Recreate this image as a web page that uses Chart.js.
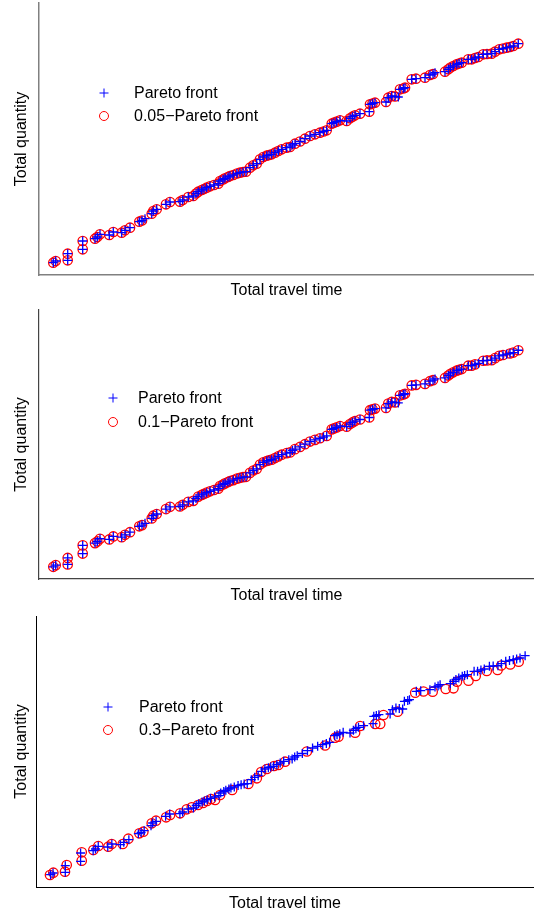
<!DOCTYPE html>
<html>
<head>
<meta charset="utf-8">
<script src="https://cdn.jsdelivr.net/npm/chart.js@4.4.0/dist/chart.umd.min.js"></script>
<style>
  body { margin: 0; background: #fff; }
  canvas { display: block; }
</style>
</head>
<body>
<canvas id="c1" width="534" height="305"></canvas>
<canvas id="c2" width="534" height="304"></canvas>
<canvas id="c3" width="534" height="305"></canvas>
<script>
// Pareto front (same in all three panels)
const paretoTime = [14.3,16.7,28.7,28.7,43.7,43.7,56,58.3,61,70.3,74.3,82.7,86,91,100.3,103,106,112.7,114.3,117.7,
  127,131,141,143.7,149.3,154.3,157,159.3,162.7,165,167.7,171,175,179.3,181,184,186,189,191,194.3,
  198,201,204,207,211,214.3,217.7,221,224.3,227.7,230,232.7,236,239.3,242.7,247.7,251,253.5,256,261,
  266,271,276,281,284.5,287.7,292.7,295,297.7,301,307.7,311,313.5,316,321,330.3,331,333.5,336,347,
  349.3,352.7,356,359.3,361,364.3,366,372.7,377,386,391,394,396,406,409.3,411.5,414.3,417.7,420,422.7,
  429.3,432.7,436,439.3,444.3,448,452.7,456,460.3,464,467.7,471,474.3,479.3];
const paretoQty = [12.3,14,14.7,21.3,25.7,34,36.3,38,40.7,40,43,42.3,44.7,47.3,53.3,54.5,56.3,61.3,64,65.7,
  70.7,73,73.3,75,78,79,81.5,83.3,85,86,87.3,88.7,90,91.3,94,95.5,96.7,98,99,100,
  101.5,102.3,103,103.3,107.3,109.7,111.3,115.7,118,119.3,120,120.7,122.3,124,125.7,127.3,128,130,131.3,133.5,
  136.3,139,140.7,142.3,143.5,144.7,151.3,152.3,153.3,154.7,154,156.7,158.3,159.7,161.3,163.3,170.7,171.5,172.3,173,
  177.3,179,178.5,178,185.7,186.5,187.3,195.7,196.3,197.3,200,201,202.3,203.3,205.7,207.5,209,210.7,211.5,212.3,
  215.7,215.7,217,218,220.7,221,221.3,223.3,225.7,226.5,227.3,228,229,231.3];

// points of the Pareto front left out of the 0.05 and 0.1 fronts
const skip005 = [16, 57, 83, 92];
const skip01 = [16, 26, 57, 64, 83, 92, 103, 110];

// 0.3-Pareto front
const eps03Time = [13.7,17,28.4,30.1,44.8,44.8,56.2,61.1,70.9,74.2,85,90.5,101.3,105.2,113.4,117.6,127.5,131.4,141.2,147.7,
  152.6,158.8,163.7,167.6,171.6,175.5,180.4,192.2,208.1,216.4,220.6,226.2,233.3,237.5,244.1,265.4,283.3,293.1,296.4,312.7,
  317.6,332.4,337.3,340.5,354.4,371.6,379.7,388.7,401.5,409.1,412.5,423.8,430.9,441.7,452.3,455.9,464.7,473];
const eps03Qty = [12,14.3,15.3,22,26.3,34.7,37,41,40.3,43,43,48.3,53.7,55.3,63.7,66.3,69.7,72,73.7,77.7,
  79.7,82,84,86,88,87,92,97,103,108.7,115,118,121,122,125.3,135.5,141.5,149.3,150.3,154.3,
  161,163,163,172,175.3,194.3,195.5,195.3,198,198.7,205.3,206.3,211,216,217,221.5,222.5,225.3];

const epsLabels = ['0.05\u2212Pareto front', '0.1\u2212Pareto front', '0.3\u2212Pareto front'];

const pareto = paretoTime.map((x, i) => ({ x: x, y: paretoQty[i] }));
const eps005 = pareto.filter((p, i) => !skip005.includes(i));
const eps01 = pareto.filter((p, i) => !skip01.includes(i));
const eps03 = eps03Time.map((x, i) => ({ x: x, y: eps03Qty[i] }));

const FONT = 'Liberation Sans, Arial, Helvetica, sans-serif';

// draws the legend inside the plot, at a fixed place
const insideLegend = {
  id: 'insideLegend',
  afterDraw(chart, args, opts) {
    const ctx = chart.ctx;
    const items = [
      { label: 'Pareto front', style: 'cross', color: '#0000ff' },
      { label: opts.label, style: 'circle', color: '#ff0000' }
    ];
    ctx.save();
    items.forEach((it, i) => {
      const y = opts.y + i * opts.gap;
      ctx.strokeStyle = it.color;
      ctx.fillStyle = 'rgba(0,0,0,0)';
      Chart.helpers.drawPoint(ctx, { pointStyle: it.style, radius: 4.5, borderWidth: 1.2, rotation: 0 }, opts.x, y);
      ctx.fillStyle = '#000';
      ctx.font = '16px ' + FONT;
      ctx.textBaseline = 'middle';
      ctx.fillText(it.label, opts.tx, y + 1);
    });
    ctx.restore();
  }
};

function makeChart(id, epsData, label, cfg) {
  new Chart(document.getElementById(id), {
    type: 'scatter',
    data: {
      datasets: [
        {
          label: 'Pareto front',
          data: pareto,
          pointStyle: 'cross',
          pointRadius: 4.5,
          pointBorderWidth: 1.3,
          borderColor: '#0000ff',
          backgroundColor: 'rgba(0,0,0,0)'
        },
        {
          label: label,
          data: epsData,
          pointStyle: 'circle',
          pointRadius: 4.7,
          pointBorderWidth: 1.3,
          borderColor: '#ff0000',
          backgroundColor: 'rgba(0,0,0,0)'
        }
      ]
    },
    options: {
      responsive: false,
      animation: false,
      devicePixelRatio: 1,
      layout: { autoPadding: false, padding: { top: cfg.top, right: 0, left: 0, bottom: 0 } },
      plugins: {
        legend: { display: false },
        tooltip: { enabled: false },
        insideLegend: cfg.legend
      },
      scales: {
        x: {
          type: 'linear',
          min: 0,
          max: cfg.xMax,
          grid: { display: false, drawTicks: false },
          ticks: { display: false },
          border: { color: cfg.axisColor, width: cfg.axisWidth },
          title: {
            display: true,
            text: 'Total travel time',
            color: '#000',
            font: { family: FONT, size: 16 },
            padding: cfg.xPad
          }
        },
        y: {
          type: 'linear',
          min: 0,
          max: cfg.yMax,
          grid: { display: false, drawTicks: false },
          ticks: { display: false },
          border: { color: cfg.axisColor, width: cfg.axisWidth },
          title: {
            display: true,
            text: 'Total quantity',
            color: '#000',
            font: { family: FONT, size: 16 },
            padding: cfg.yPad
          }
        }
      }
    },
    plugins: [insideLegend]
  });
}

makeChart('c1', eps005, epsLabels[0], {
  top: 3, xMax: 495, yMax: 272, axisColor: '#808080', axisWidth: 1.5,
  xPad: { top: 6.4, bottom: 4.4 }, yPad: { top: 12.4, bottom: 7.4 },
  legend: { x: 104, y: 93, gap: 23, tx: 134, label: epsLabels[0] }
});
makeChart('c2', eps01, epsLabels[1], {
  top: 5, xMax: 495, yMax: 272, axisColor: '#444', axisWidth: 1.2,
  xPad: { top: 7.4, bottom: 3.4 }, yPad: { top: 12.4, bottom: 7.4 },
  legend: { x: 113, y: 93, gap: 24, tx: 138, label: epsLabels[1] }
});
makeChart('c3', eps03, epsLabels[2], {
  top: 7, xMax: 488, yMax: 271, axisColor: '#000', axisWidth: 1,
  xPad: { top: 7.0, bottom: 0.8 }, yPad: { top: 12.4, bottom: 4.4 },
  legend: { x: 108, y: 98, gap: 23, tx: 139, label: epsLabels[2] }
});
</script>
</body>
</html>
